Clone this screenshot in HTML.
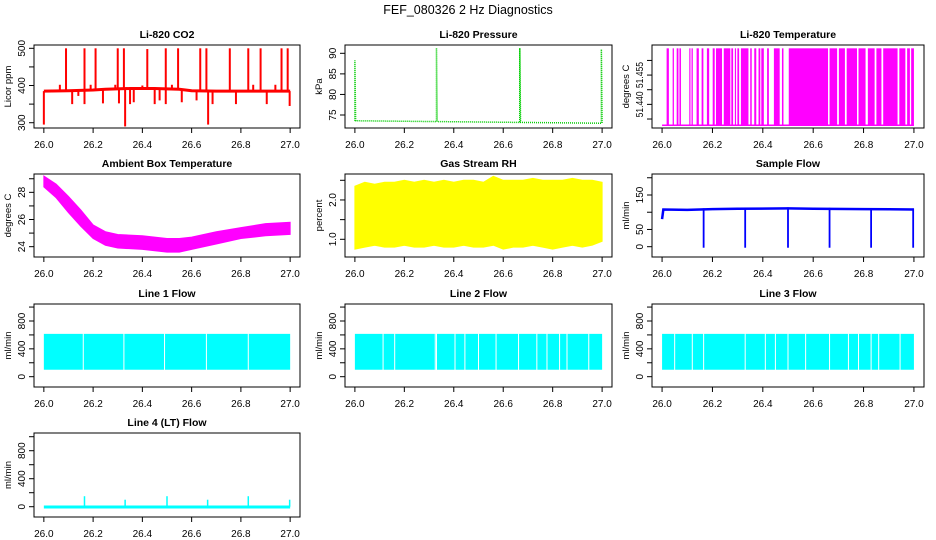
<!DOCTYPE html>
<html><head><meta charset="utf-8"><style>
html,body{margin:0;padding:0;background:#fff;}
svg{display:block;font-family:"Liberation Sans",Arial,sans-serif;}
</style></head><body>
<svg id="chart" width="936" height="540" viewBox="0 0 936 540">
<text x="468" y="14" text-anchor="middle" font-size="12.5">FEF_080326  2 Hz Diagnostics</text>
</svg>
<script>
// ---------- data ----------
const xTicks = [26.0, 26.2, 26.4, 26.6, 26.8, 27.0];
const xTickLabels = ["26.0", "26.2", "26.4", "26.6", "26.8", "27.0"];

// CO2
const co2BaseX = [26.0, 26.1, 26.2, 26.25, 26.35, 26.45, 26.55, 26.6, 26.7, 26.8, 26.9, 27.0];
const co2BaseY = [385, 386, 388, 390, 392, 392, 390, 386, 385, 385, 385, 385];
const co2SpikeX = [26.09, 26.165, 26.21, 26.30, 26.325, 26.42, 26.495, 26.545, 26.635, 26.66, 26.755, 26.83, 26.88, 26.965, 26.99,
                   26.0, 26.33, 26.667, 26.495, 26.165, 26.115, 26.24, 26.305, 26.365, 26.45, 26.56, 26.685, 26.78, 26.905, 26.998, 26.35, 26.47, 26.14, 26.62,
                   26.065, 26.19, 26.29, 26.40, 26.52, 26.85, 26.94];
const co2SpikeY = [500, 500, 500, 500, 500, 498, 500, 500, 500, 500, 500, 500, 500, 500, 500,
                   295, 290, 295, 350, 350, 350, 352, 352, 355, 350, 355, 350, 350, 350, 345, 350, 360, 372, 360,
                   402, 402, 402, 400, 402, 402, 402];

// Pressure
const presX = [26.0, 26.0, 26.003, 26.33, 26.33, 26.333, 26.667, 26.667, 26.67, 26.997, 26.997, 27.0];
const presY = [73.6, 88.3, 73.6, 73.4, 91.3, 73.4, 73.2, 91.3, 73.2, 73.0, 91.0, 73.0];

// Li-820 temperature: high-state intervals
const tempLow = 51.4293;
const tempHigh = 51.4687;
const tempHiStart = [26.018,26.042,26.058,26.069,26.108,26.117,26.137,26.157,26.178,26.201,26.214,26.245,26.275,26.289,26.299,26.313,26.35,26.366,26.383,26.394,26.417,26.444,26.476,26.503,26.665,26.702,26.733,26.78,26.817,26.851,26.878,26.942,26.973,26.989];
const tempHiEnd   = [26.027,26.047,26.065,26.075,26.112,26.122,26.146,26.164,26.187,26.209,26.238,26.271,26.282,26.293,26.306,26.343,26.356,26.374,26.39,26.404,26.424,26.467,26.482,26.659,26.695,26.726,26.774,26.808,26.844,26.871,26.935,26.966,26.984,27.0];

// Ambient box temperature (envelope)
const ambX  = [26.0, 26.05, 26.1, 26.15, 26.2, 26.25, 26.3, 26.4, 26.5, 26.55, 26.6, 26.7, 26.8, 26.9, 27.0];
const ambHi = [29.2, 28.6, 27.7, 26.7, 25.6, 25.1, 24.9, 24.8, 24.6, 24.6, 24.7, 25.1, 25.4, 25.7, 25.8];
const ambLo = [28.4, 27.6, 26.5, 25.5, 24.6, 24.1, 23.9, 23.8, 23.6, 23.6, 23.8, 24.2, 24.6, 24.8, 24.9];

// Gas stream RH (envelope per bin)
const rhX  = [26.0,26.04,26.08,26.12,26.16,26.2,26.24,26.28,26.32,26.36,26.4,26.44,26.48,26.52,26.56,26.6,26.64,26.68,26.72,26.76,26.8,26.84,26.88,26.92,26.96,27.0];
const rhHi = [2.35,2.45,2.4,2.45,2.45,2.5,2.45,2.5,2.45,2.5,2.45,2.5,2.5,2.45,2.6,2.5,2.5,2.5,2.55,2.5,2.5,2.5,2.55,2.5,2.5,2.45];
const rhLo = [0.75,0.8,0.85,0.8,0.8,0.85,0.8,0.8,0.85,0.8,0.8,0.85,0.8,0.8,0.85,0.75,0.8,0.8,0.85,0.8,0.75,0.8,0.85,0.8,0.85,0.95];

// Sample flow
const sfBaseX = [26.0, 26.005, 26.1, 26.2, 26.3, 26.5, 26.6, 26.8, 27.0];
const sfBaseY = [80, 108, 107, 109, 110, 111, 110, 109, 108];
const sfDropX = [26.165, 26.33, 26.5, 26.665, 26.83, 26.997];
const sfDropY = [-3, -3, -3, -3, -3, -3];

// Line flows
const flowHi = 615;
const flowLo = 100;
const line1Gaps = [26.16, 26.325, 26.49, 26.66, 26.83];
const line2Gaps = [26.114, 26.161, 26.325, 26.33, 26.405, 26.445, 26.5, 26.571, 26.662, 26.736, 26.777, 26.828, 26.858, 26.946];
const line3Gaps = [26.05, 26.12, 26.165, 26.33, 26.41, 26.45, 26.5, 26.57, 26.665, 26.74, 26.78, 26.83, 26.86, 26.945];
const line4SpikeX = [26.165, 26.33, 26.5, 26.665, 26.83, 26.998];
const line4SpikeY = [150, 100, 150, 100, 150, 100];

// ---------- layout ----------
const X0 = 25.96, X1 = 27.04;
const NS = "http://www.w3.org/2000/svg";
const svg = document.getElementById('chart');
function mk(tag, attrs, parent) {
  const e = document.createElementNS(NS, tag);
  for (const k in attrs) e.setAttribute(k, attrs[k]);
  (parent || svg).appendChild(e);
  return e;
}
function sx(p, v) { return p.bx0 + (v - X0) / (X1 - X0) * (p.bx1 - p.bx0); }
function sy(p, v) { return p.by1 - (v - p.y0) / (p.y1 - p.y0) * (p.by1 - p.by0); }

const cols = [[34, 300], [345, 612], [652, 924]];
const rows = [[45, 128], [174, 257], [304, 387], [433, 517]];

function panel(c, r, y0, y1, yt, ylabels, title, ylab, key) {
  const p = {bx0: cols[c][0], bx1: cols[c][1], by0: rows[r][0], by1: rows[r][1], y0: y0, y1: y1};
  const g = mk('g', {});
  
  
  p.g = g;
  const plot = mk('g', {}, g);
  
  
  p.plot = plot;
  const t = mk('text', {x: (p.bx0 + p.bx1) / 2, y: p.by0 - 7, 'text-anchor': 'middle', 'font-size': 10.5, 'font-weight': 'bold'}, g);
  t.textContent = title;
  
  
  const yl = mk('text', {transform: 'translate(' + (p.bx0 - 23) + ',' + ((p.by0 + p.by1) / 2) + ') rotate(-90)', 'text-anchor': 'middle', 'font-size': 9.5}, g);
  yl.textContent = ylab;
  
  
  const xa = mk('g', {stroke: '#000', 'stroke-width': 1}, g);
  
  
  mk('line', {x1: sx(p, xTicks[0]), x2: sx(p, xTicks[xTicks.length - 1]), y1: p.by1, y2: p.by1}, xa);
  xTicks.forEach((v, i) => {
    mk('line', {x1: sx(p, v), x2: sx(p, v), y1: p.by1, y2: p.by1 + 5}, xa);
    const tl = mk('text', {x: sx(p, v), y: p.by1 + 20, 'text-anchor': 'middle', 'font-size': 10, stroke: 'none'}, xa);
    tl.textContent = xTickLabels[i];
    
    
  });
  const ya = mk('g', {stroke: '#000', 'stroke-width': 1}, g);
  
  
  mk('line', {x1: p.bx0, x2: p.bx0, y1: sy(p, yt[0]), y2: sy(p, yt[yt.length - 1])}, ya);
  yt.forEach((v, i) => {
    mk('line', {x1: p.bx0 - 5, x2: p.bx0, y1: sy(p, v), y2: sy(p, v)}, ya);
    if (ylabels[i]) {
      const attrs = {transform: 'translate(' + (p.bx0 - 9) + ',' + sy(p, v) + ') rotate(-90)', 'text-anchor': 'middle', 'font-size': 10, stroke: 'none'};
      if (ylabels[i].length > 4) { attrs.textLength = 26; attrs.lengthAdjust = 'spacingAndGlyphs'; }
      const tl = mk('text', attrs, ya);
      tl.textContent = ylabels[i];
      
      
    }
  });
  const box = mk('rect', {x: p.bx0, y: p.by0, width: p.bx1 - p.bx0, height: p.by1 - p.by0, fill: 'none', stroke: '#000', 'stroke-width': 1}, g);
  
  
  return p;
}
function vline(p, x, ya, yb, color, w) {
  return mk('line', {x1: sx(p, x), x2: sx(p, x), y1: sy(p, ya), y2: sy(p, yb), stroke: color, 'stroke-width': w || 1.5}, p.plot);
}
function polyline(p, xs, ys, color, w, extra) {
  const pts = xs.map((x, i) => sx(p, x) + ',' + sy(p, ys[i])).join(' ');
  const a = {points: pts, fill: 'none', stroke: color, 'stroke-width': w};
  for (const k in (extra || {})) a[k] = extra[k];
  return mk('polyline', a, p.plot);
}
function band(p, xs, hi, lo, color) {
  const top = xs.map((x, i) => sx(p, x) + ',' + sy(p, hi[i]));
  const bot = xs.map((x, i) => sx(p, x) + ',' + sy(p, lo[i])).reverse();
  return mk('polygon', {points: top.concat(bot).join(' '), fill: color, stroke: color, 'stroke-width': 1}, p.plot);
}
function baseAt(xs, ys, x) {
  for (let i = 1; i < xs.length; i++) if (x <= xs[i]) { const t = (x - xs[i-1]) / (xs[i] - xs[i-1] || 1); return ys[i-1] + t * (ys[i] - ys[i-1]); }
  return ys[ys.length - 1];
}

// CO2
const pC = panel(0, 0, 285.8, 508.9, [300, 350, 400, 450, 500], ["300", "", "400", "", "500"], "Li-820 CO2", "Licor ppm", "co2");
polyline(pC, co2BaseX, co2BaseY, '#f00', 3);
co2SpikeX.forEach((x, i) => { const s = vline(pC, x, baseAt(co2BaseX, co2BaseY, x), co2SpikeY[i], '#f00', 2);  });

// Pressure
const pP = panel(1, 0, 71.84, 92.02, [75, 80, 85, 90], ["75", "80", "85", "90"], "Li-820 Pressure", "kPa", "pressure");
polyline(pP, presX, presY, '#0c0', 1.5, {'stroke-dasharray': '1,1'});

// Li-820 Temperature
const pT = panel(2, 0, 51.4279, 51.4704, [51.4325, 51.44, 51.4475, 51.455, 51.4625], ["", "51.440", "", "51.455", ""], "Li-820 Temperature", "degrees C", "li820-temp");
polyline(pT, [26.0, 27.0], [tempLow, tempLow], '#f0f', 1.5);
tempHiStart.forEach((s, i) => {
  const r = mk('rect', {x: sx(pT, s), y: sy(pT, tempHigh), width: Math.max(1.2, sx(pT, tempHiEnd[i]) - sx(pT, s)), height: sy(pT, tempLow) - sy(pT, tempHigh), fill: '#f0f'}, pT.plot);
  
  
});

// Ambient
const pA = panel(0, 1, 23.24, 29.35, [24, 25, 26, 27, 28, 29], ["24", "", "26", "", "28", ""], "Ambient Box Temperature", "degrees C", "ambient-temp");
band(pA, ambX, ambHi, ambLo, '#f0f');

// RH
const pR = panel(1, 1, 0.55, 2.66, [1.0, 1.5, 2.0, 2.5], ["1.0", "", "2.0", ""], "Gas Stream RH", "percent", "gas-rh");
band(pR, rhX, rhHi, rhLo, '#ff0');

// Sample flow
const pS = panel(2, 1, -29.9, 210.9, [0, 50, 100, 150, 200], ["0", "50", "", "150", ""], "Sample Flow", "ml/min", "sample-flow");
polyline(pS, sfBaseX, sfBaseY, '#00f', 2.5);
sfDropX.forEach((x, i) => { const s = vline(pS, x, baseAt(sfBaseX, sfBaseY, x) + 3, sfDropY[i], '#00f', 1.8);  });

// Line flows
function flowPanel(c, r, title, key, gaps) {
  const p = panel(c, r, -148, 1044, [0, 200, 400, 600, 800, 1000], ["0", "", "400", "", "800", ""], title, "ml/min", key);
  const r0 = mk('rect', {x: sx(p, 26.0), y: sy(p, flowHi), width: sx(p, 27.0) - sx(p, 26.0), height: sy(p, flowLo) - sy(p, flowHi), fill: '#0ff'}, p.plot);
  
  
  gaps.forEach(x => { const g = vline(p, x, flowLo - 20, flowHi + 20, '#fff', 1);  });
  return p;
}
flowPanel(0, 2, "Line 1 Flow", "line1-flow", line1Gaps);
flowPanel(1, 2, "Line 2 Flow", "line2-flow", line2Gaps);
flowPanel(2, 2, "Line 3 Flow", "line3-flow", line3Gaps);

// Line 4
const p4 = panel(0, 3, -147, 1053, [0, 200, 400, 600, 800, 1000], ["0", "", "400", "", "800", ""], "Line 4 (LT) Flow", "ml/min", "line4-flow");
polyline(p4, [26.0, 27.0], [-5, -5], '#0ff', 3);
line4SpikeX.forEach((x, i) => { const s = vline(p4, x, 0, line4SpikeY[i], '#0ff', 1.5);  });
</script>
</body></html>
